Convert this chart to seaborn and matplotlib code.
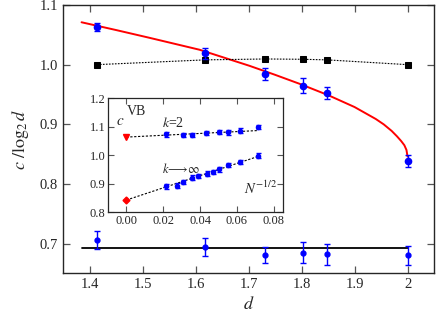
import numpy as np
import pandas as pd
import matplotlib
matplotlib.use("Agg")
import matplotlib.pyplot as plt
import seaborn as sns

# main panel: dimensions d
d_vals = [1.414, 1.618, 1.732, 1.802, 1.848, 2.0]

# upper blue points (c / log2 d) with errors
c_upper = [1.063, 1.019, 0.985, 0.965, 0.953, 0.838]
c_upper_err = [0.007, 0.0095, 0.010, 0.012, 0.010, 0.010]

# lower blue points with errors
c_lower = [0.706, 0.694, 0.681, 0.685, 0.682, 0.681]
c_lower_err = [0.015, 0.015, 0.013, 0.018, 0.018, 0.016]

# black squares
sq_vals = [1.000, 1.008, 1.0095, 1.009, 1.008, 1.000]

# red theory curve
red_d = [1.385, 1.45, 1.513, 1.6075, 1.702, 1.75, 1.796, 1.85, 1.90, 1.92,
         1.94, 1.955, 1.97, 1.98, 1.988, 1.994, 1.998, 2.0]
red_c = [1.071, 1.058, 1.045, 1.025, 0.998, 0.983, 0.968, 0.949, 0.929,
         0.919, 0.909, 0.900, 0.889, 0.880, 0.872, 0.865, 0.857, 0.846]

# horizontal black line (ln 2)
hline_d = [1.385, 2.0]
hline_c = [0.693, 0.693]

# inset data: N^{-1/2} and c^VB
k2_x = [0.0216, 0.0305, 0.0356, 0.0434, 0.0503, 0.0550, 0.0618, 0.0714]
k2_y = [1.073, 1.071, 1.071, 1.078, 1.081, 1.080, 1.086, 1.098]
kinf_x = [0.0216, 0.0274, 0.0306, 0.0357, 0.0391, 0.0436, 0.0468, 0.0504,
          0.0551, 0.0619, 0.0714]
kinf_y = [0.890, 0.893, 0.905, 0.921, 0.927, 0.935, 0.941, 0.950,
          0.965, 0.975, 0.998]
inset_err = 0.008
k2_extrap = 1.064
kinf_extrap = 0.842
k2_fit_x = [0.0, 0.0715]
k2_fit_y = [1.063, 1.086]
kinf_fit_x = [0.0, 0.0715]
kinf_fit_y = [0.842, 0.995]

sns.set_style("ticks")
plt.rcParams['font.family'] = ['Liberation Serif', 'DejaVu Serif']
plt.rcParams['mathtext.fontset'] = 'stix'
plt.rcParams['xtick.direction'] = 'in'
plt.rcParams['ytick.direction'] = 'in'

fig = plt.figure(figsize=(4.36, 3.2), dpi=100)
ax = fig.add_axes([0.1445, 0.147, 0.851, 0.8375])

blue = '#0000ff'

sns.lineplot(x=red_d, y=red_c, ax=ax, color='red', lw=1.4)
sns.lineplot(x=hline_d, y=hline_c, ax=ax, color='black', lw=1.3)
sns.lineplot(x=d_vals, y=sq_vals, ax=ax, color='black', lw=0.8,
             linestyle=(0, (1.5, 1.2)), marker='s', markersize=5,
             markeredgecolor='black', markerfacecolor='black')
ax.errorbar(d_vals, c_upper, yerr=c_upper_err, fmt='o', color=blue,
            ms=4.5, capsize=2, elinewidth=1, capthick=1)
ax.errorbar(d_vals, c_lower, yerr=c_lower_err, fmt='o', color=blue,
            ms=3.5, capsize=2, elinewidth=1, capthick=1)

ax.set_xlim(1.35, 2.05)
ax.set_ylim(0.651, 1.1)
ax.set_xticks([1.4, 1.5, 1.6, 1.7, 1.8, 1.9, 2.0])
ax.set_xticklabels(['1.4', '1.5', '1.6', '1.7', '1.8', '1.9', '2'])
ax.set_yticks([0.7, 0.8, 0.9, 1.0, 1.1])
ax.tick_params(top=True, right=True, labelsize=10.5, length=5, width=0.9,
               color='#555555')
ax.set_xlabel('$d$', fontsize=13, labelpad=4)
ax.set_ylabel('$c\\ /\\log_2 d$', fontsize=13, labelpad=6)
for s in ax.spines.values():
    s.set_linewidth(1.0)

# inset
axi = fig.add_axes([0.2477, 0.3375, 0.401, 0.356])
sns.lineplot(x=k2_fit_x, y=k2_fit_y, ax=axi, color='black', lw=0.8,
             linestyle=(0, (2, 1.5)))
sns.lineplot(x=kinf_fit_x, y=kinf_fit_y, ax=axi, color='black', lw=0.8,
             linestyle=(0, (2, 1.5)))
axi.errorbar(k2_x, k2_y, yerr=inset_err, fmt='o', color=blue, ms=3,
             capsize=1.8, elinewidth=1, capthick=1)
axi.errorbar(kinf_x, kinf_y, yerr=inset_err, fmt='o', color=blue, ms=3,
             capsize=1.8, elinewidth=1, capthick=1)
axi.plot([0.0], [k2_extrap], marker='v', color='red', ms=4.5, ls='none')
axi.plot([0.0], [kinf_extrap], marker='D', color='red', ms=3.5, ls='none')

axi.set_xlim(-0.01, 0.085)
axi.set_ylim(0.8, 1.2)
axi.set_xticks([0.0, 0.02, 0.04, 0.06, 0.08])
axi.set_xticklabels(['0.00', '0.02', '0.04', '0.06', '0.08'])
axi.set_yticks([0.8, 0.9, 1.0, 1.1, 1.2])
axi.tick_params(top=True, right=True, labelsize=9, length=4, width=0.8,
                color='#555555', pad=2)
for s in axi.spines.values():
    s.set_linewidth(0.9)

axi.text(-0.0055, 1.119, '$c$', fontsize=11, va='center')
axi.text(0.0002, 1.153, 'VB', fontsize=10, va='center')
axi.text(0.0195, 1.111, '$k$=2', fontsize=10, va='center')
axi.text(0.0195, 0.952, '$k\\!\\longrightarrow\\!\\infty$', fontsize=9,
         va='center')
axi.text(0.082, 0.882, '$N^{-1/2}$', fontsize=10.5, va='center', ha='right')

fig.savefig('out.png', dpi=100)
